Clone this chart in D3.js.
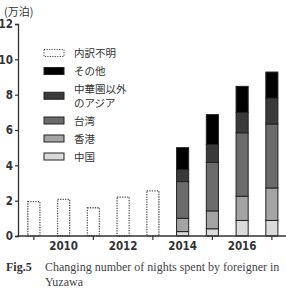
<!DOCTYPE html>
<html>
<head>
<meta charset="utf-8">
<script src="https://cdn.jsdelivr.net/npm/d3@7"></script>
<style>
    body { margin:0; background:#fff; }
    svg text { fill:#333; }
    .tick text { font-family:'DejaVu Sans Condensed','DejaVu Sans',sans-serif; font-weight:bold; font-size:11.5px; }
    .jp { font-family:'Noto Sans CJK JP',sans-serif; font-size:11px; }
    .lg { font-size:10.5px; }
    .cap { font-family:'Liberation Serif',serif; font-size:12px; fill:#444; }
</style>
</head>
<body>
<svg id="chart" width="286" height="292"></svg>
<script>
// data (万泊)
var years    = [2009, 2010, 2011, 2012, 2013, 2014, 2015, 2016, 2017];
var unknown  = [1.95, 2.07, 1.6, 2.2, 2.55, 0, 0, 0, 0];   // 内訳不明
var china    = [0, 0, 0, 0, 0, 0.25, 0.41, 0.88, 0.88];
var hongkong = [0, 0, 0, 0, 0, 0.75, 1.01, 1.37, 1.84];
var taiwan   = [0, 0, 0, 0, 0, 2.08, 2.75, 3.59, 3.62];
var otherAsia= [0, 0, 0, 0, 0, 0.68, 1.01, 1.16, 1.47];
var others   = [0, 0, 0, 0, 0, 1.24, 1.69, 1.47, 1.47];
var yTicks   = [0, 2, 4, 6, 8, 10, 12];
var xLabels  = [2010, 2012, 2014, 2016];

var keys = ["china","hongkong","taiwan","otherAsia","others"];
var colors = {china:"#dadada", hongkong:"#a4a4a4", taiwan:"#6b6b6b", otherAsia:"#3a3a3a", others:"#000000"};
var legendItems = [
    {key:"unknown",   label:["内訳不明"]},
    {key:"others",    label:["その他"]},
    {key:"otherAsia", label:["中華圏以外","のアジア"]},
    {key:"taiwan",    label:["台湾"]},
    {key:"hongkong",  label:["香港"]},
    {key:"china",     label:["中国"]}
];

var svg = d3.select("#chart");
let m = {l:18, t:24, b:56}; // magrin
var h = 292;
var y = d3.scaleLinear().domain([0,12]).range([h-m.b, m.t]);
var x = d3.scaleBand().domain(years).range([19, 286.75]).paddingInner(0.56).paddingOuter(0.28);

var table = years.map(function(d,i) {
    return {year:d, china:china[i], hongkong:hongkong[i], taiwan:taiwan[i], otherAsia:otherAsia[i], others:others[i]};
});
var series = d3.stack().keys(keys)(table);

// unknown breakdown bars
svg.append("g").selectAll("rect").data(years.filter((d,i)=>unknown[i]>0))
    .join("rect")
    .attr("x", d=>x(d)+0.5)
    .attr("width", x.bandwidth()-1)
    .attr("y", (d,i)=>y(unknown[i]))
    .attr("height", (d,i)=>y(0)-y(unknown[i]))
    .attr("fill","#fff")
    .attr("stroke","#555")
    .attr("stroke-width",1.3)
    .attr("stroke-dasharray","1.3,1.2");

// stacked bars
svg.append("g").selectAll("g").data(series)
    .join("g")
    .attr("fill", d=>colors[d.key])
    .selectAll("rect").data(d=>d.filter(e=>e[1]-e[0]>0))
    .join("rect")
    .attr("x", d=>x(d.data.year)+0.5)
    .attr("width", x.bandwidth()-1)
    .attr("y", d=>y(d[1]))
    .attr("height", d=>y(d[0])-y(d[1]))
    .attr("stroke","#222")
    .attr("stroke-width",1);

// y axis
var gy = svg.append("g").attr("transform","translate("+m.l+",0)")
    .call(d3.axisLeft(y).tickValues(yTicks).tickSize(3).tickPadding(2));
gy.select(".domain").attr("stroke","#333").attr("stroke-width",1.3);
gy.selectAll(".tick line").attr("stroke","#333").attr("stroke-width",1.2);

// x axis
var gx = svg.append("g").attr("transform","translate(0,"+y(0)+")");
gx.append("line").attr("x1",m.l-0.6).attr("x2",286).attr("stroke","#333").attr("stroke-width",1.6);
gx.selectAll(".xt").data(years.filter(d=>d%2==1))
    .join("line").attr("class","xt")
    .attr("x1",d=>x(d)+x.bandwidth()/2).attr("x2",d=>x(d)+x.bandwidth()/2)
    .attr("y1",0).attr("y2",4)
    .attr("stroke","#333").attr("stroke-width",1.2);
gx.selectAll(".tick").data(xLabels)
    .join("g").attr("class","tick")
    .append("text")
    .attr("x",d=>x(d)+x.bandwidth()/2)
    .attr("y",14)
    .attr("text-anchor","middle")
    .text(d=>d);

// unit
svg.append("text").attr("class","jp").attr("x",4).attr("y",16).text("(万泊)");

// legend - rows stacked by their number of lines
var lineH = 13.5, rowGap = 18;
var pos = 53;
legendItems.forEach(function(d) {
    d.cy = pos + (d.label.length-1)*lineH/2;
    pos = d.cy + (d.label.length-1)*lineH/2 + rowGap;
});
var lg = svg.append("g").attr("transform","translate(44,0)");
var row = lg.selectAll("g").data(legendItems)
    .join("g")
    .attr("transform",d=>"translate(0,"+d.cy+")");
row.append("rect")
    .attr("x",0).attr("y",-3.5).attr("width",20).attr("height",7)
    .attr("fill",d=>d.key==="unknown" ? "#fff" : colors[d.key])
    .attr("stroke",d=>d.key==="unknown" ? "#555" : "#222")
    .attr("stroke-width",1)
    .attr("stroke-dasharray",d=>d.key==="unknown" ? "1.3,1.2" : null);
row.selectAll("text").data(d=>d.label.map(t=>({t:t,n:d.label.length})))
    .join("text").attr("class","jp lg")
    .attr("x",30)
    .attr("y",(d,i)=>(i-(d.n-1)/2)*lineH+4)
    .text(d=>d.t);

// caption
var cap = svg.append("text").attr("class","cap").attr("y",271);
cap.append("tspan").attr("x",6).attr("font-weight","bold").attr("fill","#333").text("Fig.5");
cap.append("tspan").attr("x",45).text("Changing number of nights spent by foreigner in");
svg.append("text").attr("class","cap").attr("x",45).attr("y",286).text("Yuzawa");
</script>
</body>
</html>
